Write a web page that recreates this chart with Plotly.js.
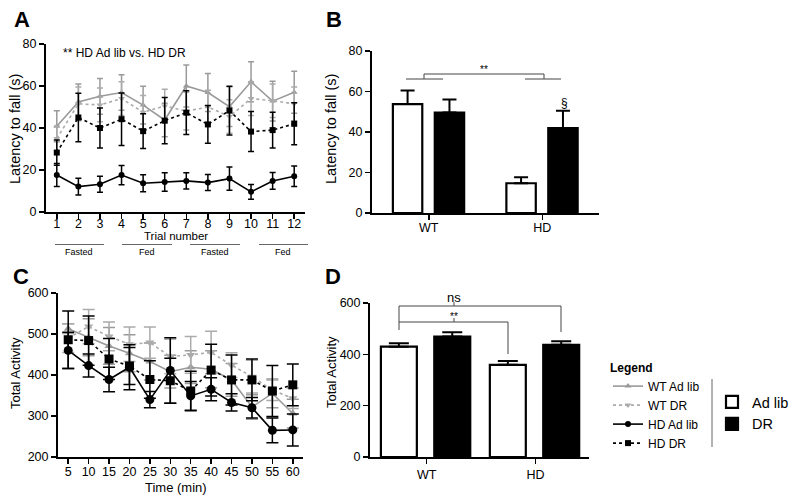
<!DOCTYPE html>
<html>
<head>
<meta charset="utf-8">
<script src="https://cdn.plot.ly/plotly-3.0.1.min.js"></script>
<style>html,body{margin:0;padding:0;background:#fff}#chart{width:800px;height:502px}</style>
</head>
<body>
<div id="chart"></div>
<script>
// ---------- Data: Panel A (Latency to fall vs trial) ----------
const trials = [1,2,3,4,5,6,7,8,9,10,11,12];
const A_wtAdlib     = [40.8, 52.4, 55.1, 56.9, 50.9, 43.8, 60.0, 56.9, 50.2, 62.0, 52.8, 57.0];
const A_wtAdlib_err = [7.4, 8.5, 8.5, 8.5, 9.0, 8.0, 10.0, 9.0, 9.5, 9.5, 9.5, 10.0];
const A_wtDR        = [35.0, 51.5, 51.0, 54.0, 47.5, 50.5, 48.0, 50.0, 45.5, 54.0, 53.0, 51.5];
const A_wtDR_err    = [6.0, 8.0, 8.0, 8.0, 8.0, 8.0, 9.0, 8.0, 8.0, 8.0, 8.0, 8.0];
const A_hdAdlib     = [17.6, 12.1, 13.2, 17.6, 13.7, 14.3, 14.8, 14.0, 15.9, 9.6, 14.8, 17.0];
const A_hdAdlib_err = [5.5, 4.0, 3.8, 4.6, 4.0, 4.4, 3.9, 3.8, 5.5, 3.5, 4.0, 4.9];
const A_hdDR        = [28.3, 45.0, 40.0, 44.2, 38.5, 43.5, 47.3, 41.7, 48.3, 38.3, 39.0, 42.0];
const A_hdDR_err    = [6.0, 11.6, 9.5, 12.5, 8.3, 11.0, 10.4, 9.0, 11.6, 9.5, 8.5, 10.0];
const A_phaseLabels = ['Fasted', 'Fed', 'Fasted', 'Fed'];

// ---------- Data: Panel B (mean latency) ----------
const groups = ['WT', 'HD'];
const B_adlib     = [53.8, 14.7];
const B_adlib_err = [6.7, 3.0];
const B_dr        = [49.6, 41.9];
const B_dr_err    = [6.4, 8.6];

// ---------- Data: Panel C (Total activity vs time) ----------
const times = [5,10,15,20,25,30,35,40,45,50,55,60];
const C_wtAdlib     = [513, 492, 471, 453, 433, 408, 419, 414, 388, 322, 355, 306];
const C_wtAdlib_err = [12, 45, 45, 45, 45, 40, 40, 45, 40, 30, 35, 35];
const C_wtDR        = [490, 518, 494, 475, 479, 445, 449, 455, 424, 396, 363, 343];
const C_wtDR_err    = [35, 42, 35, 42, 38, 42, 45, 52, 30, 40, 25, 25];
const C_hdAdlib     = [460, 423, 389, 419, 340, 411, 349, 365, 333, 320, 265, 266];
const C_hdAdlib_err = [44, 28, 30, 55, 20, 80, 35, 28, 21, 25, 30, 39];
const C_hdDR        = [486, 484, 439, 422, 389, 386, 361, 412, 388, 388, 361, 376];
const C_hdDR_err    = [70, 60, 50, 45, 46, 55, 48, 63, 61, 51, 62, 51];

// ---------- Data: Panel D (total activity means) ----------
const D_adlib     = [430, 359];
const D_adlib_err = [13, 15];
const D_dr        = [469, 437];
const D_dr_err    = [17, 14];

// ---------- Helpers ----------
const W = 800, H = 502;
const X = p => p / W;
const Y = p => 1 - p / H;
const FONT = 'Arial, "Liberation Sans", Helvetica, sans-serif';
const GRAY = '#9a9a9a', LGRAY = '#ababab', BLACK = '#000';

function lineTrace(x, y, err, name, color, dash, symbol, size, xa, ya, showleg, cap) {
  return {
    type: 'scatter', mode: 'lines+markers', x: x, y: y, name: name,
    xaxis: xa, yaxis: ya, showlegend: showleg, legend: 'legend',
    line: {color: color, width: 1.6, dash: dash},
    marker: {color: color, symbol: symbol, size: size},
    error_y: {type: 'data', array: err, visible: true, color: color, thickness: 1.5, width: cap},
    cliponaxis: false
  };
}
function barTrace(y, err, name, fill, offset, width, xa, ya, showleg, cap) {
  return {
    type: 'bar', x: groups, y: y, name: name, xaxis: xa, yaxis: ya,
    showlegend: showleg, legend: 'legend2',
    offset: offset, width: width,
    marker: {color: fill, line: {color: BLACK, width: 2.2}},
    error_y: {type: 'data', symmetric: false, array: err, arrayminus: err.map(() => 0),
              color: BLACK, thickness: 2, width: cap}
  };
}

const traces = [
  // Panel A
  lineTrace(trials, A_wtAdlib, A_wtAdlib_err, 'WT Ad lib', GRAY, 'solid', 'triangle-up', 6, 'x', 'y', true, 3),
  lineTrace(trials, A_wtDR, A_wtDR_err, 'WT DR', LGRAY, 'dot', 'triangle-down', 6, 'x', 'y', true, 3),
  lineTrace(trials, A_hdAdlib, A_hdAdlib_err, 'HD Ad lib', BLACK, 'solid', 'circle', 6, 'x', 'y', true, 3),
  lineTrace(trials, A_hdDR, A_hdDR_err, 'HD DR', BLACK, 'dot', 'square', 6, 'x', 'y', true, 3),
  // Panel C
  lineTrace(times, C_wtAdlib, C_wtAdlib_err, 'WT Ad lib', GRAY, 'solid', 'triangle-up', 8, 'x3', 'y3', false, 6),
  lineTrace(times, C_wtDR, C_wtDR_err, 'WT DR', LGRAY, 'dot', 'triangle-down', 8, 'x3', 'y3', false, 6),
  lineTrace(times, C_hdAdlib, C_hdAdlib_err, 'HD Ad lib', BLACK, 'solid', 'circle', 9, 'x3', 'y3', false, 6),
  lineTrace(times, C_hdDR, C_hdDR_err, 'HD DR', BLACK, 'dot', 'square', 9, 'x3', 'y3', false, 6),
  // Panel B
  barTrace(B_adlib, B_adlib_err, 'Ad lib', '#fff', -0.316, 0.259, 'x2', 'y2', true, 7),
  barTrace(B_dr, B_dr_err, 'DR', BLACK, 0.053, 0.259, 'x2', 'y2', true, 7),
  // Panel D
  barTrace(D_adlib, D_adlib_err, 'Ad lib', '#fff', -0.42, 0.33, 'x4', 'y4', false, 10),
  barTrace(D_dr, D_dr_err, 'DR', BLACK, 0.07, 0.33, 'x4', 'y4', false, 10)
];

const axBase = {
  showline: true, linecolor: BLACK, linewidth: 2, mirror: false,
  ticks: 'outside', ticklen: 5, tickwidth: 1.5, tickcolor: BLACK,
  showgrid: false, zeroline: false, fixedrange: true,
  tickfont: {family: FONT, size: 12.5, color: BLACK}
};
const ax = o => Object.assign({}, axBase, o);

// annotations
const ann = [];
function txt(t, x, y, size, opt) {
  ann.push(Object.assign({text: t, xref: 'paper', yref: 'paper', x: X(x), y: Y(y),
    xanchor: 'center', yanchor: 'middle', showarrow: false,
    font: {family: FONT, size: size, color: BLACK}}, opt || {}));
}
txt('<b>A</b>', 22, 20, 22);
txt('<b>B</b>', 334, 20, 22);
txt('<b>C</b>', 21, 276, 22);
txt('<b>D</b>', 333, 276, 22);
txt('** HD Ad lib vs. HD DR', 61, 53, 12, {xanchor: 'left'});
txt('Latency to fall (s)', 15, 129, 14.5, {textangle: -90});
txt('Latency to fall (s)', 331, 129, 14.5, {textangle: -90});
txt('Total Activity', 15, 373, 13, {textangle: -90});
txt('Total Activity', 331, 372, 13, {textangle: -90});
txt('Trial number', 176, 236, 11.5);
txt('Time (min)', 176, 487, 13);
const phaseX = [79, 147, 215, 283];
A_phaseLabels.forEach((l, i) => txt(l, phaseX[i], 252, 9));
txt('**', 484, 69, 10);
txt('§', 564, 103, 12);
txt('ns', 454, 297, 13);
txt('**', 454, 316, 10);

// shapes (brackets, phase lines, legend divider)
const shp = [];
function seg(x0, y0, x1, y1, color, w) {
  shp.push({type: 'line', xref: 'paper', yref: 'paper', x0: X(x0), y0: Y(y0), x1: X(x1), y1: Y(y1),
            line: {color: color, width: w}});
}
[[55,104],[122,172],[190,240],[259,308]].forEach(s => seg(s[0], 244.5, s[1], 244.5, '#666', 1));
// Panel B bracket
seg(406, 79, 443, 79, '#444', 1); seg(525, 79, 561, 79, '#444', 1);
seg(424, 79, 424, 74, '#444', 1); seg(424, 74, 544, 74, '#444', 1); seg(544, 74, 544, 79, '#444', 1);
// Panel D brackets
seg(399, 306, 561, 306, '#444', 1); seg(399, 306, 399, 330, '#444', 1); seg(561, 306, 561, 332, '#444', 1);
seg(454, 306, 454, 302, '#444', 1);
seg(399, 322, 508, 322, '#444', 1); seg(508, 322, 508, 354, '#444', 1); seg(454, 322, 454, 318, '#444', 1);
// legend divider
seg(712, 379, 712, 447, '#666', 1);

const layout = {
  width: W, height: H, margin: {l: 0, r: 0, t: 0, b: 0},
  paper_bgcolor: '#fff', plot_bgcolor: 'rgba(0,0,0,0)',
  font: {family: FONT, color: BLACK},
  barmode: 'overlay',
  xaxis:  ax({domain: [X(46), X(305)], anchor: 'y', range: [0.5, 12.5], tickvals: trials, ticklabelstandoff: -6}),
  yaxis:  ax({domain: [Y(212), Y(44)], anchor: 'x', range: [0, 80], dtick: 20}),
  xaxis2: ax({domain: [X(372), X(599)], anchor: 'y2', type: 'category', categoryarray: groups, range: [-0.5, 1.5], ticklabelstandoff: -3}),
  yaxis2: ax({domain: [Y(213), Y(51)], anchor: 'x2', range: [0, 80], dtick: 20}),
  xaxis3: ax({domain: [X(58), X(303)], anchor: 'y3', range: [2.5, 62.5], tick0: 5, dtick: 5, ticklabelstandoff: -3}),
  yaxis3: ax({domain: [Y(457), Y(293)], anchor: 'x3', range: [200, 600], dtick: 100}),
  xaxis4: ax({domain: [X(370), X(589)], anchor: 'y4', type: 'category', categoryarray: groups, range: [-0.52, 1.49]}),
  yaxis4: ax({domain: [Y(457), Y(303)], anchor: 'x4', range: [0, 600], dtick: 200}),
  legend: {
    x: X(608), y: Y(356), xanchor: 'left', yanchor: 'top', bgcolor: 'rgba(0,0,0,0)',
    borderwidth: 0, tracegroupgap: 0, traceorder: 'normal',
    font: {family: FONT, size: 12, color: BLACK},
    title: {text: '<b>Legend</b>', font: {family: FONT, size: 12, color: BLACK}, side: 'top'}
  },
  legend2: {
    x: X(712), y: Y(386), xanchor: 'left', yanchor: 'top', bgcolor: 'rgba(0,0,0,0)',
    borderwidth: 0, tracegroupgap: 0,
    font: {family: FONT, size: 14.5, color: BLACK}
  },
  annotations: ann,
  shapes: shp,
  showlegend: true
};

Plotly.newPlot('chart', traces, layout, {displayModeBar: false, staticPlot: true});
</script>
</body>
</html>
